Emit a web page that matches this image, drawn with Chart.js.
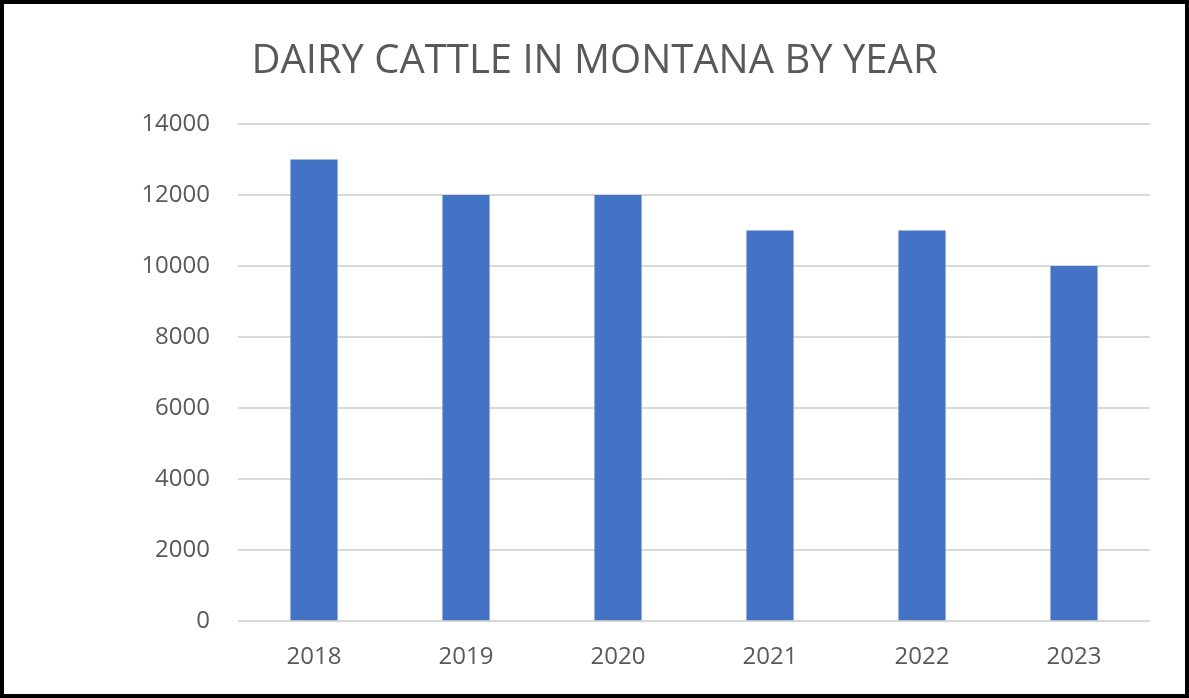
<!DOCTYPE html>
<html>
<head>
<meta charset="utf-8">
<script src="https://cdn.jsdelivr.net/npm/chart.js@4/dist/chart.umd.min.js"></script>
<style>
  html, body { margin: 0; padding: 0; background: #fff; }
  #frame {
    box-sizing: border-box;
    width: 1189px;
    height: 698px;
    border: 4px solid #000;
    background: #fff;
  }
  #wrap { position: relative; width: 1181px; height: 690px; }
</style>
</head>
<body>
<div id="frame">
  <div id="wrap"><canvas id="cattleChart"></canvas></div>
</div>
<script>
// ===== DATA =====
const years = ["2018", "2019", "2020", "2021", "2022", "2023"];
const cattleCounts = [13000, 12000, 12000, 11000, 11000, 10000];
const yTicks = [0, 2000, 4000, 6000, 8000, 10000, 12000, 14000];

const labelGrey = "#595959";

// ===== CHART =====
const ctx = document.getElementById("cattleChart").getContext("2d");

new Chart(ctx, {
  type: "bar",
  data: {
    labels: years,
    datasets: [{
      label: "Dairy cattle",
      data: cattleCounts,
      backgroundColor: "#4472C4",
      borderWidth: 0,
      categoryPercentage: 1,
      barPercentage: 0.31
    }]
  },
  options: {
    responsive: true,
    maintainAspectRatio: false,
    animation: false,
    layout: {
      padding: 0
    },
    plugins: {
      legend: { display: false },
      tooltip: { enabled: false },
      title: {
        display: true,
        text: "DAIRY CATTLE IN MONTANA BY YEAR",
        color: labelGrey,
        font: { family: "'Open Sans', sans-serif", size: 40, weight: "normal" },
        padding: { top: 34, bottom: 38 }
      }
    },
    scales: {
      x: {
        grid: { display: false, drawTicks: false },
        border: { display: false },
        ticks: {
          color: labelGrey,
          padding: 22,
          font: { family: "'Open Sans', sans-serif", size: 24 }
        }
      },
      y: {
        min: 0,
        max: 14000,
        afterBuildTicks: function (scale) {
          scale.ticks = yTicks.map(v => ({ value: v }));
        },
        afterFit: function (scale) {
          scale.width = 234;
        },
        grid: { color: "#D9D9D9", lineWidth: 2, drawTicks: false },
        border: { display: false },
        ticks: {
          color: labelGrey,
          padding: 28,
          font: { family: "'Open Sans', sans-serif", size: 24 },
          callback: function (value) {
            return String(value);
          }
        }
      },
      // empty right-hand axis, only keeps the right margin so the title stays centred
      yRight: {
        position: "right",
        display: true,
        grid: { display: false, drawTicks: false },
        border: { display: false },
        ticks: { display: false },
        afterFit: function (scale) {
          scale.width = 35;
        }
      }
    }
  }
});
</script>
</body>
</html>
